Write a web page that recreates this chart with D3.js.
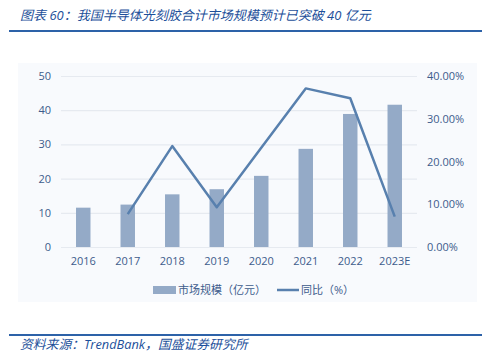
<!DOCTYPE html>
<html>
<head>
<meta charset="utf-8">
<script src="https://cdn.jsdelivr.net/npm/d3@7"></script>
<style>
  body { margin: 0; background: #fff; }
  svg text { font-family: "Open Sans", "Noto Sans CJK SC", sans-serif; }
</style>
</head>
<body>
<svg id="chart" width="482" height="362"></svg>
<script>
// data
var years = ["2016", "2017", "2018", "2019", "2020", "2021", "2022", "2023E"];
var marketSize = [11.5, 12.4, 15.4, 16.9, 20.8, 28.7, 38.9, 41.6];   // 亿元
var yoy = [null, 0.077, 0.236, 0.093, 0.232, 0.371, 0.348, 0.071];  // 同比
var leftTicks = [0, 10, 20, 30, 40, 50];
var rightTicks = [0, 0.1, 0.2, 0.3, 0.4];

var svg = d3.select("#chart");
var blue = "#1d4f9a";
var labelColor = "#3d5c8c";

// header / footer rules
svg.append("rect").attr("x", 9).attr("y", 30).attr("width", 473).attr("height", 2).attr("fill", "#2d62a8");
svg.append("rect").attr("x", 9).attr("y", 334).attr("width", 473).attr("height", 2).attr("fill", "#2d62a8");

svg.append("text")
    .attr("x", 20).attr("y", 20)
    .attr("fill", blue)
    .style("font-size", "13px")
    .style("font-style", "italic")
    .text("图表 60：我国半导体光刻胶合计市场规模预计已突破 40 亿元");

svg.append("text")
    .attr("x", 20).attr("y", 349)
    .attr("fill", blue)
    .style("font-size", "12.8px")
    .style("font-style", "italic")
    .text("资料来源：TrendBank，国盛证券研究所");

// panel background
svg.append("rect").attr("x", 18).attr("y", 63).attr("width", 459).attr("height", 239).attr("fill", "#f8fafd");

var x = d3.scaleBand().domain(years).range([61, 417]).paddingInner(0.675).paddingOuter(0.3375);
var y = d3.scaleLinear().domain([0, 50]).range([247, 76]);
var y2 = d3.scaleLinear().domain([0, 0.4]).range([247, 76]);

// grid
svg.append("g").selectAll("line").data(leftTicks).enter().append("line")
    .attr("x1", 61).attr("x2", 417)
    .attr("y1", function(d) { return y(d) + 0.5; })
    .attr("y2", function(d) { return y(d) + 0.5; })
    .attr("stroke", "#e6eaf0").attr("stroke-width", 1.2);

// left axis
var leftAxis = svg.append("g").attr("transform", "translate(51,0)")
    .call(d3.axisLeft(y).tickValues(leftTicks).tickSize(0).tickPadding(0));
leftAxis.select(".domain").remove();
leftAxis.selectAll("text").attr("fill", labelColor).style("font-size", "11px");

// right axis
var rightAxis = svg.append("g").attr("transform", "translate(427,0)")
    .call(d3.axisRight(y2).tickValues(rightTicks).tickSize(0).tickPadding(0).tickFormat(d3.format(".2%")));
rightAxis.select(".domain").remove();
rightAxis.selectAll("text").attr("fill", labelColor).style("font-size", "11px");

// x axis
var xAxis = svg.append("g").attr("transform", "translate(0,257)")
    .call(d3.axisBottom(x).tickSize(0).tickPadding(0));
xAxis.select(".domain").remove();
xAxis.selectAll("text").attr("fill", labelColor).style("font-size", "11px").attr("dy", "0.71em");

// bars
svg.append("g").selectAll("rect").data(marketSize).enter().append("rect")
    .attr("x", function(d, i) { return x(years[i]); })
    .attr("y", function(d) { return y(d); })
    .attr("width", x.bandwidth())
    .attr("height", function(d) { return y(0) - y(d); })
    .attr("fill", "#94aac7");

// yoy line
var line = d3.line()
    .defined(function(d) { return d != null; })
    .x(function(d, i) { return x(years[i]) + x.bandwidth() / 2; })
    .y(function(d) { return y2(d); });

svg.append("path").datum(yoy)
    .attr("d", line)
    .attr("fill", "none")
    .attr("stroke", "#5880ae")
    .attr("stroke-width", 2.5)
    .attr("stroke-linejoin", "round");

// legend
var legend = svg.append("g");
legend.append("rect").attr("x", 153).attr("y", 286).attr("width", 23).attr("height", 8).attr("fill", "#94aac7");
legend.append("text").attr("x", 178).attr("y", 294).attr("fill", labelColor).style("font-size", "11px").text("市场规模（亿元）");
legend.append("line").attr("x1", 277).attr("x2", 299).attr("y1", 290).attr("y2", 290)
    .attr("stroke", "#5880ae").attr("stroke-width", 2.5);
legend.append("text").attr("x", 301).attr("y", 294).attr("fill", labelColor).style("font-size", "11px").text("同比（%）");
</script>
</body>
</html>
